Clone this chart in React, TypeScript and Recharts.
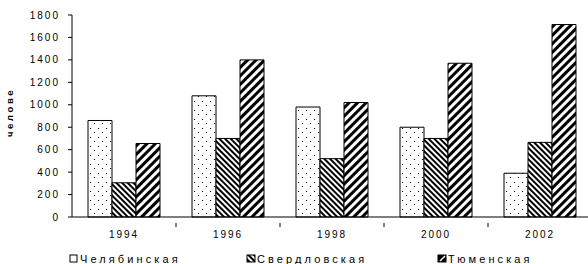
import { BarChart, Bar, XAxis, YAxis, Legend } from 'recharts'

const years = ['1994', '1996', '1998', '2000', '2002']
const chelyabinsk = [860, 1080, 980, 800, 390]
const sverdlovsk = [305, 700, 520, 700, 665]
const tyumen = [655, 1400, 1020, 1370, 1715]
const yTicks = [0, 200, 400, 600, 800, 1000, 1200, 1400, 1600, 1800]

const seriesNames = ['Челябинская', 'Свердловская', 'Тюменская']
const seriesFills = ['url(#dots)', 'url(#fineHatch)', 'url(#wideHatch)']

const data = years.map((year, i) => ({
  year,
  chel: chelyabinsk[i],
  sverd: sverdlovsk[i],
  tyum: tyumen[i],
}))

const font = '"Liberation Sans", Arial, sans-serif'
const BAND = 104

function XTick(props: any) {
  const { x, y, payload } = props
  return (
    <g>
      <line x1={x + BAND / 2} y1={y - 2} x2={x + BAND / 2} y2={y + 2} stroke="#000" />
      <text x={x} y={y + 13} textAnchor="middle" fontFamily={font} fontSize={10} letterSpacing={2} fill="#000">
        {payload.value}
      </text>
    </g>
  )
}

// the axis title is cut off at the top in the original
function YTitle() {
  return (
    <g>
      <clipPath id="ytitleClip">
        <rect x={0} y={89} width={30} height={80} />
      </clipPath>
      <g clipPath="url(#ytitleClip)">
        <text
          x={13}
          y={137}
          transform="rotate(-90 13 137)"
          fontFamily={font}
          fontSize={9.5}
          fontWeight="bold"
          letterSpacing={2.6}
          fill="#000"
        >
          человек
        </text>
      </g>
    </g>
  )
}

function LegendContent() {
  const xs = [70, 247, 438]
  return (
    <svg width={588} height={24}>
      <rect x={xs[0]} y={15} width={7} height={7} fill="#fff" stroke="#000" />
      <rect x={xs[1]} y={15} width={8} height={7} fill="url(#fineHatch)" stroke="#000" />
      <rect x={xs[2]} y={15} width={8} height={7} fill="#000" stroke="#000" />
      <line x1={xs[2] + 2} y1={21} x2={xs[2] + 7} y2={16} stroke="#fff" strokeWidth={1.5} />
      {seriesNames.map((name, i) => (
        <text key={name} x={xs[i] + 10} y={22.5} fontFamily={font} fontSize={11} letterSpacing={3.1} fill="#000">
          {name}
        </text>
      ))}
    </svg>
  )
}

export default function App() {
  return (
    <div style={{ position: 'absolute', left: 0, top: 0, width: 588, height: 264, overflow: 'hidden', background: '#fff' }}>
      <BarChart
        width={592}
        height={264}
        data={data}
        margin={{ top: 15, right: 0, left: 0, bottom: 0 }}
        barCategoryGap={16}
        barGap={0}
      >
        <defs>
          <pattern id="dots" patternUnits="userSpaceOnUse" width={8} height={9}>
            <rect width={8} height={9} fill="#fff" />
            <rect x={2} y={2} width={1} height={1} fill="#000" />
            <rect x={6} y={6} width={1} height={1} fill="#000" />
          </pattern>
          <pattern id="fineHatch" patternUnits="userSpaceOnUse" width={4} height={4} patternTransform="rotate(-45)">
            <rect width={4} height={4} fill="#fff" />
            <rect width={2} height={4} fill="#000" />
          </pattern>
          <pattern id="wideHatch" patternUnits="userSpaceOnUse" width={6} height={6} patternTransform="rotate(45)">
            <rect width={6} height={6} fill="#fff" />
            <rect width={3} height={6} fill="#000" />
          </pattern>
        </defs>
        <XAxis
          dataKey="year"
          height={23}
          stroke="#000"
          tickLine={false}
          tick={<XTick />}
          interval={0}
        />
        <YAxis
          width={72}
          domain={[0, 1800]}
          ticks={yTicks}
          interval={0}
          stroke="#000"
          tickSize={4}
          tickMargin={8}
          tick={{ fontFamily: font, fontSize: 10, letterSpacing: 2, fill: '#000' }}
          label={<YTitle />}
        />
        <Legend verticalAlign="bottom" height={24} content={<LegendContent />} wrapperStyle={{ left: 0, width: 588 }} />
        <Bar dataKey="chel" name={seriesNames[0]} fill={seriesFills[0]} stroke="#000" strokeWidth={1} isAnimationActive={false} />
        <Bar dataKey="sverd" name={seriesNames[1]} fill={seriesFills[1]} stroke="#000" strokeWidth={1} isAnimationActive={false} />
        <Bar dataKey="tyum" name={seriesNames[2]} fill={seriesFills[2]} stroke="#000" strokeWidth={1} isAnimationActive={false} />
      </BarChart>
    </div>
  )
}
